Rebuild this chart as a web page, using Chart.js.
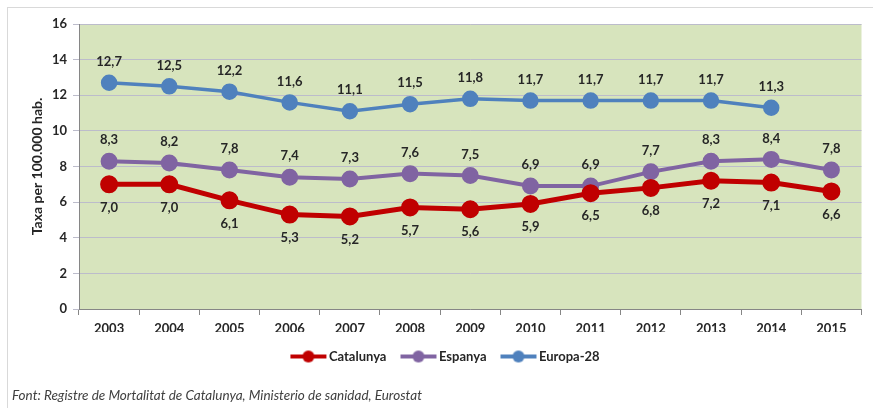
<!DOCTYPE html>
<html>
<head>
<meta charset="utf-8">
<script src="https://cdn.jsdelivr.net/npm/chart.js"></script>
<style>
  body { margin: 0; background: #fff; }
  #wrap { position: relative; width: 873px; height: 408px; overflow: hidden; }
  #frame { position: absolute; left: 7px; top: 7px; width: 900px; height: 420px; border: 1px solid #d9d9d9; box-sizing: border-box; }
  canvas { position: absolute; left: 0; top: 0; }
  #source { position: absolute; left: 12px; top: 387px; font: italic 13.5px Lato, "Open Sans", sans-serif; color: #404040; }
</style>
</head>
<body>
<div id="wrap">
  <div id="frame"></div>
  <canvas id="myChart" width="873" height="408"></canvas>
  <div id="source">Font: Registre de Mortalitat de Catalunya, Ministerio de sanidad, Eurostat</div>
</div>
<script>
const years = ['2003','2004','2005','2006','2007','2008','2009','2010','2011','2012','2013','2014','2015'];
const catalunya = [7.0, 7.0, 6.1, 5.3, 5.2, 5.7, 5.6, 5.9, 6.5, 6.8, 7.2, 7.1, 6.6];
const espanya = [8.3, 8.2, 7.8, 7.4, 7.3, 7.6, 7.5, 6.9, 6.9, 7.7, 8.3, 8.4, 7.8];
const europa28 = [12.7, 12.5, 12.2, 11.6, 11.1, 11.5, 11.8, 11.7, 11.7, 11.7, 11.7, 11.3, null];

const FONT = 'Lato, "Open Sans", sans-serif';

// small line+dot picture for the legend (wider than its slot so it meets the text)
function legendIcon(color) {
  const c = document.createElement('canvas');
  c.width = 40; c.height = 14;
  const g = c.getContext('2d');
  g.strokeStyle = color; g.lineWidth = 4;
  g.beginPath(); g.moveTo(2, 7); g.lineTo(38, 7); g.stroke();
  g.fillStyle = color;
  g.beginPath(); g.arc(20, 7, 6, 0, Math.PI * 2); g.fill();
  return c;
}

const plotBg = {
  id: 'plotBg',
  beforeDraw(chart) {
    const { ctx, chartArea: a } = chart;
    ctx.save();
    ctx.fillStyle = '#d7e4bd';
    ctx.fillRect(a.left, a.top, a.right - a.left, a.bottom - a.top);
    ctx.restore();
  }
};

// value labels: Catalunya below the points, the others above
const valueLabels = {
  id: 'valueLabels',
  afterDatasetsDraw(chart) {
    const ctx = chart.ctx;
    ctx.save();
    ctx.font = 'bold 13px ' + FONT;
    ctx.fillStyle = '#262626';
    ctx.textAlign = 'center';
    ctx.textBaseline = 'middle';
    chart.data.datasets.forEach((ds, i) => {
      const meta = chart.getDatasetMeta(i);
      meta.data.forEach((pt, j) => {
        const v = ds.data[j];
        if (v == null) return;
        const dy = ds.label === 'Catalunya' ? 23 : -21;
        ctx.fillText(v.toFixed(1).replace('.', ','), pt.x, pt.y + dy);
      });
    });
    ctx.restore();
  }
};

new Chart(document.getElementById('myChart'), {
  type: 'line',
  data: {
    labels: years,
    datasets: [
      { label: 'Catalunya', data: catalunya, borderColor: '#c00000', backgroundColor: '#c00000', borderWidth: 5, pointRadius: 6.5 },
      { label: 'Espanya', data: espanya, borderColor: '#8064a2', backgroundColor: '#8064a2', borderWidth: 4, pointRadius: 6.5 },
      { label: 'Europa-28', data: europa28, borderColor: '#4f81bd', backgroundColor: '#4f81bd', borderWidth: 3.5, pointRadius: 6.5 }
    ]
  },
  options: {
    responsive: false,
    animation: false,
    layout: { padding: { left: 25, top: 24, right: 4, bottom: 35 } },
    elements: { point: { pointStyle: 'circle', borderWidth: 0 }, line: { tension: 0 } },
    plugins: {
      legend: {
        position: 'bottom',
        labels: {
          usePointStyle: true,
          pointStyleWidth: 28,
          boxHeight: 14,
          font: { family: FONT, size: 13, weight: 'bold' },
          color: '#262626',
          padding: 18,
          generateLabels(chart) {
            return chart.data.datasets.map((ds, i) => ({
              text: ds.label, pointStyle: legendIcon(ds.borderColor), fontColor: '#262626',
              strokeStyle: ds.borderColor, fillStyle: ds.borderColor, lineWidth: 0, datasetIndex: i
            }));
          }
        }
      },
      tooltip: { enabled: false }
    },
    scales: {
      x: {
        offset: true,
        grid: { drawOnChartArea: false, offset: true, tickLength: 6, color: '#868686' },
        border: { color: '#868686' },
        ticks: { font: { family: FONT, size: 13, weight: 'bold' }, color: '#262626', padding: 6 },
        afterFit(s) { s.height = 23; }
      },
      y: {
        min: 0, max: 16,
        ticks: { stepSize: 2, font: { family: FONT, size: 13, weight: 'bold' }, color: '#262626', padding: 6 },
        grid: { color: '#bcbccb', tickLength: 6 },
        border: { color: '#868686' },
        title: { display: true, text: 'Taxa per 100.000 hab.', font: { family: FONT, size: 14, weight: 'bold' }, color: '#262626', padding: 4 },
        afterFit(s) { s.width = 54; }
      }
    }
  },
  plugins: [plotBg, valueLabels]
});
</script>
</body>
</html>
